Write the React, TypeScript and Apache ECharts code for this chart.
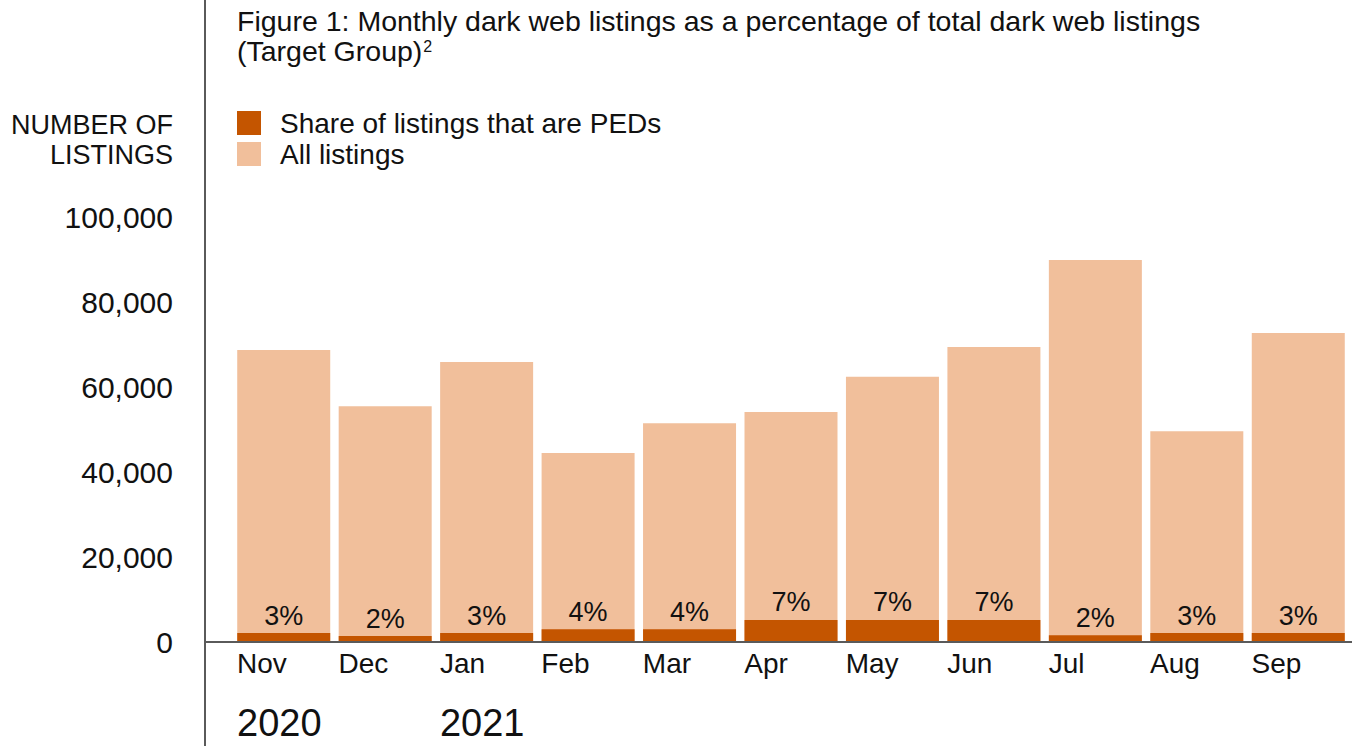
import React, { useEffect, useRef } from "react";
import * as echarts from "echarts";

const months = ["Nov", "Dec", "Jan", "Feb", "Mar", "Apr", "May", "Jun", "Jul", "Aug", "Sep"];
const years = ["2020", "", "2021", "", "", "", "", "", "", "", ""];
const allListings = [68700, 55500, 65900, 44500, 51500, 54100, 62400, 69400, 89900, 49600, 72700];
const pedListings = [2100, 1400, 2100, 3000, 3000, 5200, 5200, 5200, 1600, 2100, 2100];
const pedShare = [3, 2, 3, 4, 4, 7, 7, 7, 2, 3, 3];
const yTicks = [0, 20000, 40000, 60000, 80000, 100000];

const FONT = "'Liberation Sans', Arial, Helvetica, sans-serif";
const DARK = "#C45500";
const LIGHT = "#F1BF9B";
const TEXT = "#111111";
const LINE = "#5a5a5a";

export default function App() {
  const ref = useRef<HTMLDivElement>(null);

  useEffect(() => {
    if (!ref.current) return;
    const chart = echarts.init(ref.current, null, { renderer: "svg" });
    const W = 1352;
    const H = 746;
    const gridBottom = 104;
    const axisY = H - gridBottom;

    const option: any = {
      animation: false,
      textStyle: { fontFamily: FONT, color: TEXT },
      grid: { left: 233, right: 3, top: 217, bottom: gridBottom, containLabel: false },
      legend: {
        data: ["Share of listings that are PEDs", "All listings"],
        orient: "vertical",
        left: 237,
        top: 109,
        padding: 0,
        itemWidth: 24,
        itemHeight: 24,
        itemGap: 3,
        icon: "rect",
        selectedMode: false,
        textStyle: {
          fontFamily: FONT,
          fontSize: 28,
          color: TEXT,
          lineHeight: 24,
          padding: [0, 0, 0, 14],
        },
      },
      xAxis: [
        {
          type: "category",
          data: months,
          axisLine: { show: false },
          axisTick: { show: false },
          axisLabel: { show: false },
          splitLine: { show: false },
        },
        {
          type: "value",
          position: "bottom",
          min: 0,
          max: months.length,
          interval: 1,
          axisLine: { show: false },
          axisTick: { show: false },
          splitLine: { show: false },
          axisLabel: {
            show: true,
            align: "left",
            verticalAlign: "top",
            margin: 6,
            padding: [0, 0, 0, 4],
            showMaxLabel: false,
            formatter: (v: number) => {
              const i = Math.round(v);
              if (i < 0 || i >= months.length) return "";
              return years[i] ? `{m|${months[i]}}\n{y|${years[i]}}` : `{m|${months[i]}}`;
            },
            rich: {
              m: { fontFamily: FONT, fontSize: 28, lineHeight: 30, color: TEXT },
              y: { fontFamily: FONT, fontSize: 38, lineHeight: 90, color: TEXT },
            },
          },
        },
      ],
      yAxis: {
        type: "value",
        min: yTicks[0],
        max: yTicks[yTicks.length - 1],
        interval: yTicks[1] - yTicks[0],
        axisLine: { show: false },
        axisTick: { show: false },
        splitLine: { show: false },
        axisLabel: {
          margin: 60,
          fontFamily: FONT,
          fontSize: 30,
          color: TEXT,
          formatter: (v: number) => v.toLocaleString("en-US"),
        },
      },
      series: [
        {
          name: "All listings",
          type: "bar",
          xAxisIndex: 0,
          data: allListings,
          barWidth: 93,
          itemStyle: { color: LIGHT },
          z: 2,
        },
        {
          name: "Share of listings that are PEDs",
          type: "bar",
          xAxisIndex: 0,
          data: pedListings,
          barWidth: 93,
          barGap: "-100%",
          itemStyle: { color: DARK },
          z: 3,
          label: {
            show: true,
            position: "top",
            distance: 4,
            fontFamily: FONT,
            fontSize: 27,
            color: TEXT,
            formatter: (p: any) => `${pedShare[p.dataIndex]}%`,
          },
        },
      ],
      graphic: [
        {
          type: "line",
          shape: { x1: 205, y1: 0, x2: 205, y2: H },
          style: { stroke: LINE, lineWidth: 2 },
          z: 10,
        },
        {
          type: "line",
          shape: { x1: 205, y1: axisY, x2: W, y2: axisY },
          style: { stroke: LINE, lineWidth: 2 },
          z: 10,
        },
        {
          type: "text",
          x: 237,
          y: 6,
          style: {
            text: "{t|Figure 1: Monthly dark web listings as a percentage of total dark web listings}\n{t|(Target Group)}{s|2}",
            rich: {
              t: { fontFamily: FONT, fontSize: 28.5, lineHeight: 30, fill: TEXT },
              s: { fontFamily: FONT, fontSize: 16, lineHeight: 30, fill: TEXT, verticalAlign: "top", padding: [2, 0, 0, 1] },
            },
          },
        },
        {
          type: "text",
          x: 173,
          y: 110,
          style: {
            text: "NUMBER OF\nLISTINGS",
            align: "right",
            fontFamily: FONT,
            fontSize: 27,
            lineHeight: 30,
            fill: TEXT,
          },
        },
      ],
    };

    chart.setOption(option);
    return () => chart.dispose();
  }, []);

  return (
    <div
      ref={ref}
      style={{ position: "fixed", left: 0, top: 0, width: 1352, height: 746, background: "#fff" }}
    />
  );
}
